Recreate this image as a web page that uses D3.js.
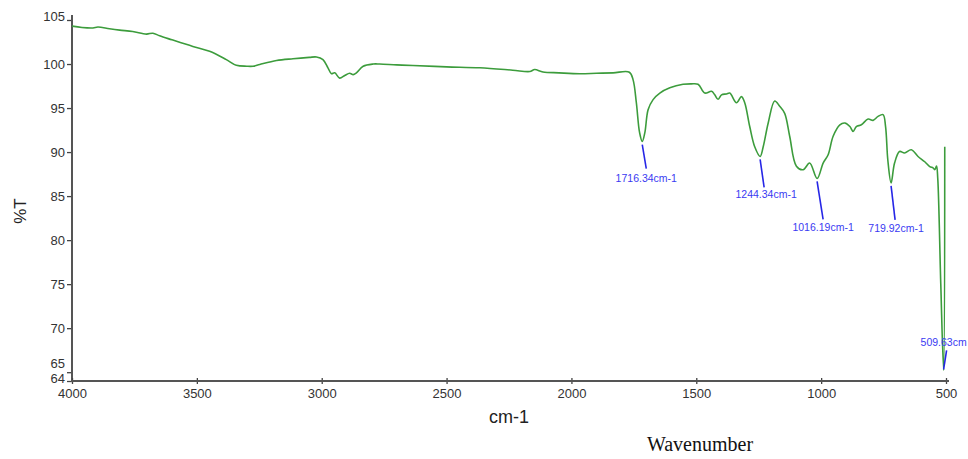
<!DOCTYPE html>
<html>
<head>
<meta charset="utf-8">
<script src="https://cdn.jsdelivr.net/npm/d3@7/dist/d3.min.js"></script>
<style>
  html, body { margin: 0; padding: 0; background: #fff; }
  svg { display: block; }
</style>
</head>
<body>
<svg id="chart" width="968" height="459"></svg>
<script>
// FTIR spectrum: wavenumber (cm-1) vs transmittance (%T)
const wavenumber = [
  4000, 3960, 3916, 3896, 3850, 3809, 3757, 3702, 3676, 3649, 3600, 3516, 3449, 3382, 3342,
  3300, 3275, 3248, 3181, 3115, 3050, 3021, 2995, 2975, 2961, 2948, 2928, 2908, 2888, 2874,
  2861, 2834, 2794, 2768, 2700, 2635, 2500, 2367, 2235, 2167, 2147, 2114, 2050, 1967, 1900,
  1833, 1768, 1753, 1740, 1727, 1716.34, 1706, 1693, 1673, 1646, 1606, 1553, 1520, 1493, 1466,
  1439, 1426, 1413, 1399, 1379, 1366, 1339, 1319, 1306, 1286, 1266, 1244.34, 1232, 1212, 1186,
  1166, 1146, 1126, 1099, 1072, 1046, 1016.19, 992, 972, 952, 925, 905, 885, 872, 859,
  839, 812, 792, 772, 752, 742, 733, 719.92, 706, 686, 666, 639, 612, 585, 565,
  552, 545, 538, 533, 521, 509.63, 505
];
const transmittance = [
  104.3, 104.15, 104.1, 104.2, 104.0, 103.85, 103.7, 103.4, 103.5, 103.2, 102.75, 102.0, 101.45, 100.5, 99.86,
  99.75, 99.75, 99.95, 100.4, 100.6, 100.75, 100.8, 100.5, 99.57, 98.9, 99.0, 98.4, 98.7, 98.95, 98.8,
  99.0, 99.75, 100.0, 100.0, 99.9, 99.83, 99.68, 99.57, 99.3, 99.15, 99.37, 99.1, 99.0, 98.9, 98.95,
  99.0, 99.07, 98.2, 95.6, 92.2, 91.2, 92.2, 94.8, 95.96, 96.7, 97.3, 97.7, 97.75, 97.7, 96.7,
  96.9, 96.5, 96.0, 96.5, 96.6, 96.7, 95.6, 96.3, 95.6, 92.9, 90.6, 89.5, 90.6, 93.3, 95.8,
  95.2, 94.4, 91.8, 88.4, 88.0, 88.75, 87.0, 88.75, 89.7, 91.8, 93.1, 93.3, 92.9, 92.35, 92.9,
  93.1, 93.75, 93.6, 94.05, 94.25, 92.9, 89.1, 86.5, 88.75, 90.07, 89.9, 90.26, 89.5, 88.9, 88.35,
  88.2, 88.0, 88.4, 87.0, 75.1, 65.2, 90.6
];

const xTickValues = [4000, 3500, 3000, 2500, 2000, 1500, 1000, 500];
const yTickValues = [64, 65, 70, 75, 80, 85, 90, 95, 100, 105];

// Labelled absorption bands
const peakWavenumbers = [1716.34, 1244.34, 1016.19, 719.92, 509.63];
const peakLabels = ["1716.34cm-1", "1244.34cm-1", "1016.19cm-1", "719.92cm-1", "509.63cm"];

// Leader end offsets (px) from each band minimum, and text placement
const leaderLayout = [
  { dx: 4, dy: 27, tx: 0, ty: 13, anchor: "middle", gap: 3 },
  { dx: 4, dy: 31, tx: 2, ty: 11, anchor: "middle", gap: 3 },
  { dx: 6, dy: 41, tx: 0, ty: 12, anchor: "middle", gap: 3 },
  { dx: 4, dy: 37, tx: 1, ty: 12, anchor: "middle", gap: 3 },
  { dx: 3, dy: -20, tx: -26, ty: -4, anchor: "start", gap: -1 }
];

const svg = d3.select("#chart");
const x = d3.scaleLinear().domain([4000, 500]).range([72, 946]);
const y = d3.scaleLinear().domain([64, 105]).range([381, 20]);

const fontSans = "'Liberation Sans', Arial, sans-serif";

// Y axis
const yAxis = svg.append("g")
  .attr("transform", "translate(72,0)")
  .call(d3.axisLeft(y).tickValues(yTickValues).tickSize(5).tickPadding(2).tickFormat(d3.format("d")));
yAxis.select(".domain").remove();
yAxis.selectAll(".tick line").attr("stroke", "#444").attr("stroke-width", 1.3);
yAxis.selectAll(".tick text")
  .attr("font-family", fontSans)
  .attr("font-size", 13)
  .attr("fill", "#333")
  .attr("dy", d => d === 65 ? "-0.35em" : d === 64 ? "0.12em" : d === 105 ? "0.05em" : "0.32em");
svg.append("line")
  .attr("x1", 72).attr("x2", 72).attr("y1", 15).attr("y2", 382)
  .attr("stroke", "#555").attr("stroke-width", 2);

// X axis
const xAxis = svg.append("g")
  .attr("transform", "translate(0,381)")
  .call(d3.axisBottom(x).tickValues(xTickValues).tickSize(3).tickPadding(5).tickFormat(d3.format("d")));
xAxis.select(".domain").remove();
xAxis.selectAll(".tick line").attr("stroke", "#444").attr("stroke-width", 1.3).attr("y1", -3);
xAxis.selectAll(".tick text")
  .attr("font-family", fontSans)
  .attr("font-size", 13)
  .attr("fill", "#333");
svg.append("line")
  .attr("x1", 71).attr("x2", 949).attr("y1", 381).attr("y2", 381)
  .attr("stroke", "#555").attr("stroke-width", 2);

// Spectrum trace
const points = wavenumber.map((w, i) => [w, transmittance[i]]);
const line = d3.line().x(d => x(d[0])).y(d => y(d[1])).curve(d3.curveCatmullRom.alpha(0.5));
svg.append("path")
  .datum(points)
  .attr("d", line)
  .attr("fill", "none")
  .attr("stroke", "#3c9c3c")
  .attr("stroke-width", 1.6)
  .attr("stroke-linejoin", "round");

// Band annotations
peakWavenumbers.forEach((w, i) => {
  const idx = wavenumber.indexOf(w);
  const px = x(w), py = y(transmittance[idx]);
  const L = leaderLayout[i];
  const ex = px + L.dx, ey = py + L.dy;
  svg.append("line")
    .attr("x1", px).attr("y1", py + L.gap)
    .attr("x2", ex).attr("y2", ey)
    .attr("stroke", "#2626e6").attr("stroke-width", 1.6);
  svg.append("text")
    .attr("x", ex + L.tx).attr("y", ey + L.ty)
    .attr("text-anchor", L.anchor)
    .attr("font-family", fontSans)
    .attr("font-size", 10.5)
    .attr("fill", "#3a3af2")
    .text(peakLabels[i]);
});

// Axis titles
svg.append("text")
  .attr("x", 509).attr("y", 423)
  .attr("text-anchor", "middle")
  .attr("font-family", fontSans)
  .attr("font-size", 18)
  .attr("fill", "#222")
  .text("cm-1");

svg.append("text")
  .attr("transform", "translate(26,211) rotate(-90)")
  .attr("text-anchor", "middle")
  .attr("font-family", fontSans)
  .attr("font-size", 17)
  .attr("fill", "#222")
  .text("%T");

svg.append("text")
  .attr("x", 700).attr("y", 451)
  .attr("text-anchor", "middle")
  .attr("font-family", "'Liberation Serif', 'Times New Roman', serif")
  .attr("font-size", 20)
  .attr("fill", "#111")
  .text("Wavenumber");
</script>
</body>
</html>
